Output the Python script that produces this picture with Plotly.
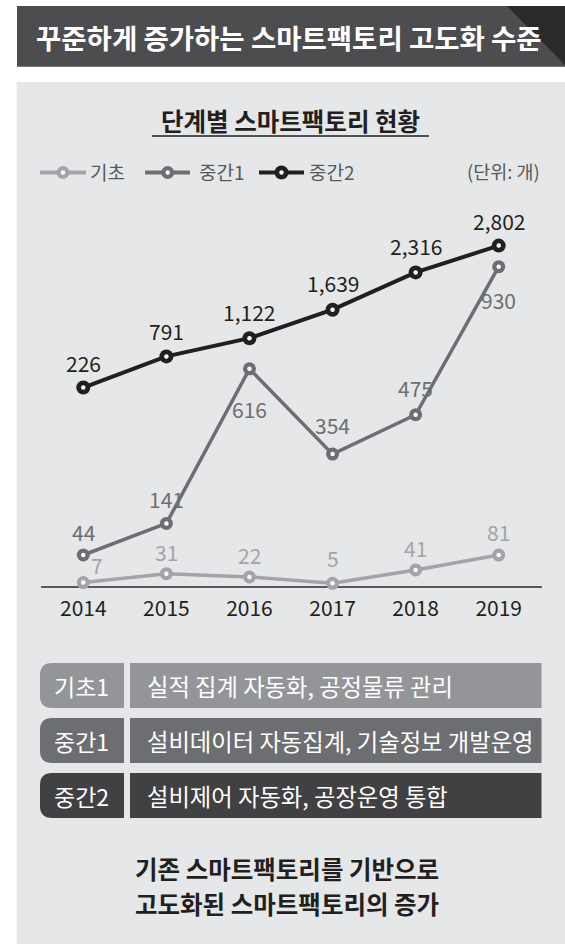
import plotly.graph_objects as go

# ---------------- data ----------------
YEARS = [2014, 2015, 2016, 2017, 2018, 2019]
BASIC = [7, 31, 22, 5, 41, 81]            # 기초
MID1 = [44, 141, 616, 354, 475, 930]      # 중간1
MID2 = [226, 791, 1122, 1639, 2316, 2802] # 중간2
SERIES_NAMES = ["기초", "중간1", "중간2"]
ROW_LABELS = ["기초1", "중간1", "중간2"]
ROW_TEXTS = ["실적 집계 자동화, 공정물류 관리",
             "설비데이터 자동집계, 기술정보 개발운영",
             "설비제어 자동화, 공장운영 통합"]
TITLE = "꾸준하게 증가하는 스마트팩토리 고도화 수준"
SUBTITLE = "단계별 스마트팩토리 현황"
UNIT = "(단위: 개)"
FOOT = ["기존 스마트팩토리를 기반으로", "고도화된 스마트팩토리의 증가"]

# ---------------- style ----------------
W, H = 565, 944
FONT = "Noto Sans CJK KR"
C_BASIC = "#a2a4a7"
C_MID1 = "#6d6e71"
C_MID2 = "#231f20"
PANEL = "#e6e7e8"
ROW_COLORS = ["#949598", "#6d6e71", "#414042"]
# label offsets (px) per point
SHIFT_BASIC = [(14, 18), (0, 22), (0, 22), (0, 25), (0, 22), (0, 23)]
SHIFT_MID1 = [(0, 23), (0, 24), (0, -40), (0, 29), (0, 27), (0, -33)]
SHIFT_MID2 = [(0, 25), (0, 25), (0, 26), (0, 27), (0, 26), (0, 25)]


def px(x):
    return x / W


def py(y):
    return 1 - y / H


fig = go.Figure()

series = [
    (BASIC, "y", C_BASIC, 3.5, 13, SHIFT_BASIC),
    (MID1, "y2", C_MID1, 3.5, 13, SHIFT_MID1),
    (MID2, "y3", C_MID2, 4, 14, SHIFT_MID2),
]

annotations = []
for (vals, ax, col, lw, ms, shifts), name in zip(series, SERIES_NAMES):
    fig.add_trace(go.Scatter(
        x=YEARS, y=vals, yaxis=ax, mode="lines+markers", name=name,
        line=dict(color=col, width=lw),
        marker=dict(size=ms, color=col, line=dict(width=0)),
        cliponaxis=False, showlegend=False, hoverinfo="skip"))
    fig.add_trace(go.Scatter(
        x=YEARS, y=vals, yaxis=ax, mode="markers",
        marker=dict(size=4.5, color="white", line=dict(width=0)),
        cliponaxis=False, showlegend=False, hoverinfo="skip"))
    for xv, yv, (dx, dy) in zip(YEARS, vals, shifts):
        annotations.append(dict(
            x=xv, y=yv, xref="x", yref=ax, text=f"{yv:,}", showarrow=False,
            xshift=dx, yshift=dy, xanchor="center", yanchor="middle",
            font=dict(family=FONT, size=21, color=col)))

shapes = []
# title banner
shapes.append(dict(type="rect", xref="paper", yref="paper", layer="below",
                   x0=px(17), x1=px(565), y0=py(66.7), y1=py(6),
                   fillcolor="#4d4d4f", line=dict(width=0)))
shapes.append(dict(type="path", xref="paper", yref="paper", layer="below",
                   path=f"M {px(507)},{py(6)} L {px(565)},{py(6)} L {px(565)},{py(65)} Z",
                   fillcolor="#2a2a2b", line=dict(width=0)))
# panel
shapes.append(dict(type="rect", xref="paper", yref="paper", layer="below",
                   x0=px(16.7), x1=px(565), y0=py(944), y1=py(82),
                   fillcolor=PANEL, line=dict(width=0)))
# subtitle underline
shapes.append(dict(type="line", xref="paper", yref="paper",
                   x0=px(152), x1=px(429), y0=py(136), y1=py(136),
                   line=dict(color=C_MID2, width=1.5)))

# legend (manual)
LEG_Y = 172.5
legend_items = [
    (40, 86, 63, C_BASIC, 6.5, 88, SERIES_NAMES[0]),
    (145, 190, 167.7, C_MID1, 6.5, 197, SERIES_NAMES[1]),
    (259, 304, 281.5, C_MID2, 7, 307, SERIES_NAMES[2]),
]
for x0, x1, cx, col, r, tx, name in legend_items:
    shapes.append(dict(type="line", xref="paper", yref="paper",
                       x0=px(x0), x1=px(x1), y0=py(LEG_Y), y1=py(LEG_Y),
                       line=dict(color=col, width=4)))
    shapes.append(dict(type="circle", xref="paper", yref="paper",
                       x0=px(cx - r), x1=px(cx + r), y0=py(LEG_Y + r), y1=py(LEG_Y - r),
                       fillcolor=col, line=dict(width=0)))
    shapes.append(dict(type="circle", xref="paper", yref="paper",
                       x0=px(cx - 2.2), x1=px(cx + 2.2), y0=py(LEG_Y + 2.2), y1=py(LEG_Y - 2.2),
                       fillcolor="white", line=dict(width=0)))
    annotations.append(dict(x=px(tx), y=py(171), xref="paper", yref="paper",
                            text=name, showarrow=False, xanchor="left", yanchor="middle",
                            font=dict(family=FONT, size=19, color="#58595b")))
annotations.append(dict(x=px(541.5), y=py(171), xref="paper", yref="paper",
                        text=UNIT, showarrow=False, xanchor="right", yanchor="middle",
                        font=dict(family=FONT, size=18.5, color="#58595b")))

# rows
ROW_TOPS = [663, 718, 773]
ROW_H = 45
R = 12
for top, lab, txt, col in zip(ROW_TOPS, ROW_LABELS, ROW_TEXTS, ROW_COLORS):
    bot = top + ROW_H
    lx0, lx1 = 40, 124
    path = (f"M {px(lx0 + R)},{py(top)} L {px(lx1)},{py(top)} L {px(lx1)},{py(bot)} "
            f"L {px(lx0 + R)},{py(bot)} Q {px(lx0)},{py(bot)} {px(lx0)},{py(bot - R)} "
            f"L {px(lx0)},{py(top + R)} Q {px(lx0)},{py(top)} {px(lx0 + R)},{py(top)} Z")
    shapes.append(dict(type="path", xref="paper", yref="paper", path=path,
                       fillcolor=col, line=dict(width=0)))
    shapes.append(dict(type="rect", xref="paper", yref="paper",
                       x0=px(130), x1=px(541.5), y0=py(bot), y1=py(top),
                       fillcolor=col, line=dict(width=0)))
    cy = top + ROW_H / 2
    annotations.append(dict(x=px(81), y=py(cy), xref="paper", yref="paper", text=lab,
                            showarrow=False, xanchor="center", yanchor="middle",
                            font=dict(family=FONT, size=23, color="white")))
    annotations.append(dict(x=px(145), y=py(cy), xref="paper", yref="paper", text=txt,
                            showarrow=False, xanchor="left", yanchor="middle",
                            font=dict(family=FONT, size=23.3, color="white")))

# title, subtitle, footer
annotations.append(dict(x=px(289), y=py(37), xref="paper", yref="paper", text=TITLE,
                        showarrow=False, xanchor="center", yanchor="middle",
                        font=dict(family=FONT, size=27.5, color="white", weight=700)))
annotations.append(dict(x=px(290.5), y=py(120), xref="paper", yref="paper", text=SUBTITLE,
                        showarrow=False, xanchor="center", yanchor="middle",
                        font=dict(family=FONT, size=24.5, color=C_MID2, weight=700)))
for yy, line in zip([868, 903], FOOT):
    annotations.append(dict(x=px(287), y=py(yy), xref="paper", yref="paper", text=line,
                            showarrow=False, xanchor="center", yanchor="middle",
                            font=dict(family=FONT, size=24.5, color=C_MID2, weight=700)))

Y_DOMAIN = [py(586), py(230)]
fig.update_layout(
    width=W, height=H,
    margin=dict(l=0, r=0, t=0, b=0),
    paper_bgcolor="white", plot_bgcolor="rgba(0,0,0,0)",
    font=dict(family=FONT),
    showlegend=False,
    xaxis=dict(domain=[px(40.6), px(541.5)], range=[2013.486, 2019.515],
               tickvals=YEARS, ticktext=[str(y) for y in YEARS],
               tickfont=dict(family=FONT, size=21, color=C_MID2),
               showgrid=False, zeroline=False, showline=True,
               linecolor="#58595b", linewidth=1.5, ticks="",
               ticklabelstandoff=3, layer="below traces", fixedrange=True),
    yaxis=dict(domain=Y_DOMAIN, range=[-2.15, 954.8], visible=False, fixedrange=True),
    yaxis2=dict(range=[-51.3, 1042.7], overlaying="y", visible=False, fixedrange=True),
    yaxis3=dict(range=[-3375.7, 3085.3], overlaying="y", visible=False, fixedrange=True),
    shapes=shapes,
    annotations=annotations,
)

fig.write_html("out.html", config={"displayModeBar": False},
               post_script="document.body.style.margin='0';document.body.style.overflow='hidden';")
